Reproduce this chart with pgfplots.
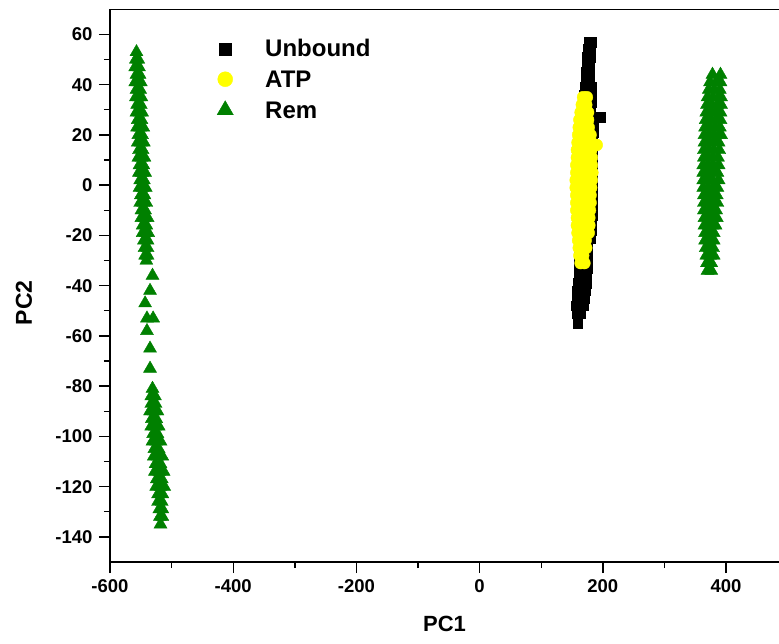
\documentclass[border=0pt]{standalone}
\usepackage{fontspec}
\setmainfont{Liberation Sans}
\usepackage{pgfplots}
\pgfplotsset{compat=1.18}
\definecolor{remgreen}{RGB}{0,128,0}
\definecolor{atpyellow}{RGB}{255,255,0}
\begin{document}
\begin{tikzpicture}
\useasboundingbox (-110pt,-81pt) rectangle (669pt,562pt);
\begin{axis}[
  at={(0pt,0pt)}, anchor=south west,
  scale only axis, width=669pt, height=552.7pt,
  xmin=-600, xmax=486, ymin=-150, ymax=70,
  axis x line=box, axis y line=left,
  axis line style={line width=1.4pt, -},
  xtick={-600,-400,...,400}, ytick={-140,-120,...,60},
  minor x tick num=1, minor y tick num=1,
  tick align=outside,
  major tick length=11pt, minor tick length=6pt,
  every tick/.style={line width=1.4pt, black},
  xtick pos=bottom, ytick pos=left,
  /pgf/number format/assume math mode=true,
  /pgf/number format/1000 sep={},
  ticklabel style={font=\fontsize{18.5}{18.5}\selectfont\bfseries},
  xticklabel style={yshift=-3pt},
  yticklabel style={xshift=-3pt},
  xlabel={PC1}, ylabel={PC2},
  every axis x label/.style={at={(axis description cs:0.5,0)}, anchor=center, yshift=-62pt, font=\fontsize{22}{22}\selectfont\bfseries},
  every axis y label/.style={at={(axis description cs:0,0.5)}, anchor=center, xshift=-86pt, yshift=-17pt, rotate=90, font=\fontsize{23}{23}\selectfont\bfseries},
  legend style={at={(0.151,0.946)}, anchor=north west, draw=none, fill=none,
    inner sep=0pt, nodes={inner sep=0pt, anchor=base west}, row sep=12pt,
    font=\fontsize{24}{24}\selectfont\bfseries},
  legend cell align=left,
  legend image code/.code={\path[draw=none, fill=none] (0pt,0pt) rectangle (54pt,17pt);
    \draw[#1, mark options={scale=1.25}] plot coordinates {(14pt,8pt)};},
]
\addplot[only marks, mark=square*, mark size=4.8pt, color=black] coordinates {
(178,57) (181,57) (176,54) (180,54) (175,51) (180,51) (174,48) (179,48)
(173,45) (179,45) (172,42) (178,42) (171,39) (177,39) (181,39)
(170,36) (176,36) (181,36) (169,33) (175,33) (181,33)
(168,30) (174,30) (180,30) (167,27) (173,27) (179,27) (196,27)
(166,24) (172,24) (179,24) (184,24) (165,21) (171,21) (178,21) (184,21)
(165,18) (171,18) (177,18) (183,18)
(163,15) (170,15) (177,15) (183,15) (163,12) (170,12) (177,12) (183,12)
(163,9) (170,9) (177,9) (183,9) (163,6) (170,6) (177,6) (183,6)
(163,3) (170,3) (177,3) (183,3) (163,0) (170,0) (177,0) (183,0)
(163,-3) (170,-3) (177,-3) (183,-3) (163,-6) (170,-6) (177,-6) (183,-6)
(163,-9) (170,-9) (177,-9) (183,-9) (163,-12) (170,-12) (177,-12) (183,-12)
(162,-15) (170,-15) (177,-15) (182,-15) (162,-18) (170,-18) (176,-18) (181,-18)
(162,-21) (169,-21) (176,-21) (180,-21) (162,-24) (169,-24) (175,-24)
(162,-27) (169,-27) (175,-27) (162,-30) (169,-30) (175,-30)
(162,-33) (169,-33) (175,-33) (161,-36) (168,-36) (174,-36)
(160,-39) (167,-39) (173,-39) (158,-42) (165,-42) (172,-42)
(158,-45) (164,-45) (170,-45) (157,-48) (163,-48) (169,-48)
(158,-51) (164,-51) (159,-55)
};
\addlegendentry{Unbound}
\addplot[only marks, mark=*, mark size=6pt, color=atpyellow, mark options={draw=atpyellow, fill=atpyellow}] coordinates {
(168,35) (174,35) (166,32) (173,32) (164,29) (171,29) (176,29)
(162,26) (170,26) (176,26) (161,23) (169,23) (177,23)
(160,20) (168,20) (176,20) (180,20) (159,17) (167,17) (175,17) (181,17) (190,16)
(158,14) (166,14) (174,14) (181,14) (158,11) (166,11) (174,11) (182,11)
(157,8) (165,8) (173,8) (182,8) (157,5) (165,5) (173,5) (183,5)
(156,2) (164,2) (172,2) (182,2) (156,-1) (164,-1) (172,-1) (181,-1)
(157,-4) (164,-4) (172,-4) (180,-4) (157,-7) (165,-7) (172,-7) (180,-7)
(157,-10) (165,-10) (172,-10) (179,-10) (158,-13) (165,-13) (172,-13) (178,-13)
(158,-16) (165,-16) (171,-16) (178,-16) (159,-19) (166,-19) (172,-19) (177,-19)
(160,-22) (166,-22) (172,-22) (161,-25) (167,-25) (173,-25)
(162,-28) (168,-28) (164,-31) (170,-31)
};
\addlegendentry{ATP}
\addplot[only marks, mark=triangle*, mark size=7.5pt, color=remgreen] coordinates {
(-557,53) (-558,50) (-554,50) (-559,47) (-553,47) (-557,44) (-552,44)
(-559,41) (-554,41) (-550,41) (-557,38) (-551,38) (-558,35) (-553,35) (-549,35)
(-556,32) (-550,32) (-557,29) (-552,29) (-548,29) (-555,26) (-549,26)
(-556,23) (-551,23) (-546,23) (-554,20) (-548,20) (-555,17) (-550,17) (-545,17)
(-553,14) (-547,14) (-554,11) (-549,11) (-544,11) (-552,8) (-546,8)
(-553,5) (-548,5) (-543,5) (-551,2) (-545,2) (-552,-1) (-547,-1) (-542,-1)
(-550,-4) (-544,-4) (-551,-7) (-546,-7) (-541,-7) (-549,-10) (-543,-10)
(-549,-13) (-544,-13) (-539,-13) (-547,-16) (-541,-16)
(-547,-19) (-542,-19) (-538,-19) (-545,-22) (-539,-22)
(-544,-25) (-539,-25) (-543,-28) (-539,-28) (-541,-30)
(-531,-36) (-535,-42) (-543,-47) (-540,-53) (-530,-53) (-540,-58) (-535,-65) (-535,-73)
(-531,-81) (-533,-84) (-527,-84) (-533,-87) (-526,-87)
(-535,-90) (-529,-90) (-523,-90) (-532,-93) (-525,-93)
(-533,-96) (-527,-96) (-521,-96) (-530,-99) (-523,-99)
(-531,-102) (-525,-102) (-518,-102) (-528,-105) (-521,-105)
(-529,-108) (-523,-108) (-515,-108) (-526,-111) (-518,-111)
(-527,-114) (-520,-114) (-513,-114) (-524,-117) (-516,-117)
(-525,-120) (-518,-120) (-512,-120) (-522,-123) (-515,-123)
(-522,-126) (-516,-126) (-520,-129) (-515,-129) (-519,-132) (-515,-132) (-518,-135)
(378,44) (391,44) (374,41) (384,41) (391,41) (372,38) (381,38) (390,38)
(370,35) (379,35) (388,35) (392,35) (369,32) (377,32) (386,32) (392,32)
(368,29) (376,29) (384,29) (391,29) (367,26) (375,26) (383,26) (391,26)
(366,23) (374,23) (382,23) (390,23) (365,20) (373,20) (381,20) (389,20) (392,20)
(365,17) (372,17) (380,17) (388,17) (364,14) (372,14) (380,14) (389,14)
(364,11) (371,11) (379,11) (387,11) (363,8) (371,8) (379,8) (388,8)
(363,5) (370,5) (378,5) (386,5) (363,2) (370,2) (378,2) (388,2)
(363,-1) (371,-1) (379,-1) (386,-1) (364,-4) (371,-4) (378,-4) (385,-4)
(364,-7) (371,-7) (378,-7) (386,-7) (364,-10) (372,-10) (379,-10) (384,-10)
(365,-13) (372,-13) (379,-13) (385,-13) (365,-16) (372,-16) (378,-16) (383,-16)
(366,-19) (373,-19) (380,-19) (366,-22) (373,-22) (380,-22)
(367,-25) (373,-25) (379,-25) (368,-28) (374,-28) (380,-28)
(369,-31) (376,-31) (370,-34) (376,-34)
};
\addlegendentry{Rem}
\end{axis}
\end{tikzpicture}
\end{document}
